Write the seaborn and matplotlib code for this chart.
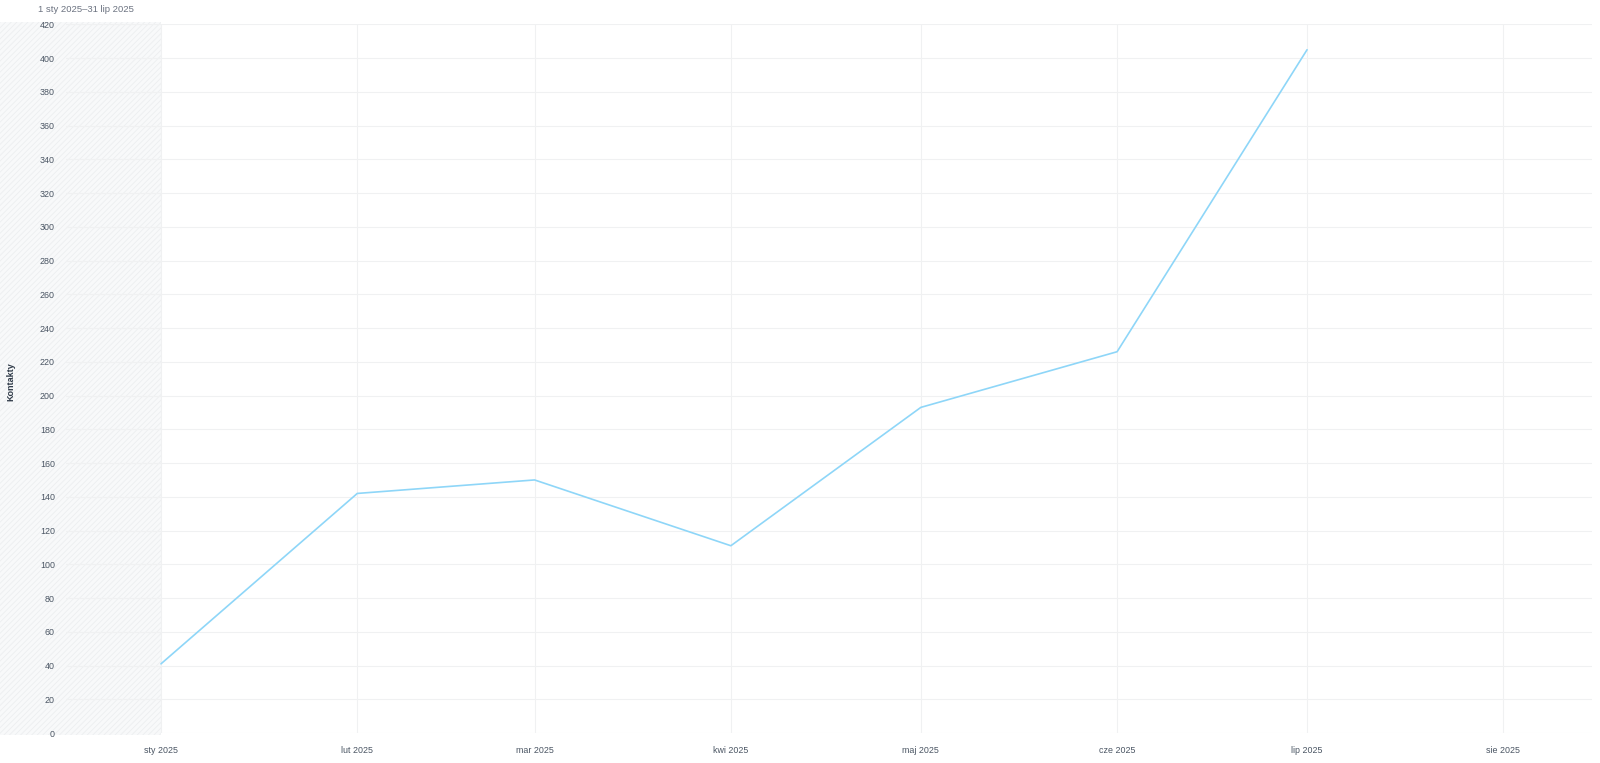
import seaborn as sns
import pandas as pd
import matplotlib.pyplot as plt
import matplotlib.dates as mdates
from matplotlib.patches import Rectangle

months = ["2025-01-01", "2025-02-01", "2025-03-01", "2025-04-01",
          "2025-05-01", "2025-06-01", "2025-07-01"]
contacts = [41, 142, 150, 111, 193, 226, 405]
tick_dates = ["2025-01-01", "2025-02-01", "2025-03-01", "2025-04-01",
              "2025-05-01", "2025-06-01", "2025-07-01", "2025-08-01"]
tick_labels = ["sty 2025", "lut 2025", "mar 2025", "kwi 2025",
               "maj 2025", "cze 2025", "lip 2025", "sie 2025"]
title = "1 sty 2025\u201331 lip 2025"

sns.set_style("white")
plt.rcParams["font.family"] = ["Liberation Sans", "DejaVu Sans"]
plt.rcParams["hatch.linewidth"] = 0.6

df = pd.DataFrame({"month": pd.to_datetime(months), "Kontakty": contacts})

fig = plt.figure(figsize=(16, 7.63), dpi=100)
ax = fig.add_axes([0.04125, 0.0393, 0.95375, 0.9287])

sns.lineplot(data=df, x="month", y="Kontakty", ax=ax, color="#8ed6f8", linewidth=1.2)

ax.set_ylim(0, 420)
ax.set_yticks(range(0, 421, 20))
ax.set_xlim(pd.Timestamp("2024-12-17"), pd.Timestamp("2025-08-15"))
ax.set_xticks(pd.to_datetime(tick_dates))
ax.set_xticklabels(tick_labels)
ax.grid(True, color="#f0f1f2", linewidth=0.8)
for s in ax.spines.values():
    s.set_visible(False)
ax.tick_params(axis="both", length=0, labelsize=6.4, colors="#4a5563")
ax.tick_params(axis="x", pad=9)
ax.tick_params(axis="y", pad=8)
ax.set_xlabel("")
ax.set_ylabel("")
fig.text(0.0065, 0.5, "Kontakty", rotation=90, ha="center", va="center",
         fontsize=6.5, fontweight="bold", color="#2f3a48")
fig.text(0.024, 0.994, title, ha="left", va="top", fontsize=6.8, color="#6b7280")

# hatched "before range" shading from the figure edge to the first month
fig.canvas.draw()
x_first = ax.transData.transform((mdates.date2num(df["month"].iloc[0]), 0))[0]
x_frac = fig.transFigure.inverted().transform((x_first, 0))[0]
bbox = ax.get_position()
fig.patches.append(Rectangle((0, bbox.y0 - 0.003), x_frac, bbox.height + 0.006,
                             transform=fig.transFigure,
                             facecolor="#f8f9fa", edgecolor="#eceef0", hatch="//////",
                             linewidth=0, zorder=-1))
ax.patch.set_alpha(0)

fig.savefig("out.png", dpi=100)
